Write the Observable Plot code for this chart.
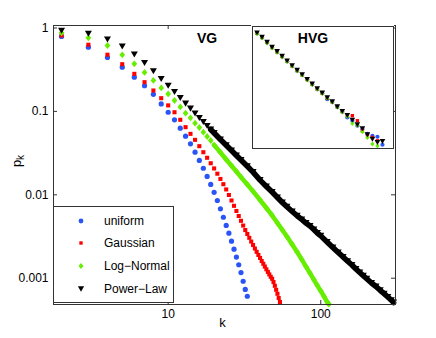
<!DOCTYPE html>
<html><head><meta charset="utf-8">
<script src="https://cdn.jsdelivr.net/npm/d3@7"></script>
<script src="https://cdn.jsdelivr.net/npm/@observablehq/plot@0.6"></script>
<style>
body{margin:0;background:#fff;font-family:"Liberation Sans",Arial,sans-serif;}
#wrap{position:relative;width:436px;height:338px;overflow:hidden;background:#fff;}
#inset{position:absolute;left:251px;top:25px;}
#legend{position:absolute;left:53px;top:206px;width:121px;height:97px;box-sizing:border-box;border:1px solid #333;background:#fff;}
.lrow{position:absolute;left:0;height:16px;width:118px;font-size:12px;line-height:16px;color:#000;}
.lrow svg{position:absolute;left:21px;top:2px;}
.lrow span{position:absolute;left:50px;top:0;white-space:nowrap;}
</style></head>
<body><div id="wrap"><div id="inset"></div><div id="legend"></div></div>
<script>
// ---- main (VG) data ----
const uniformK = [2,3,4,5,6,7,8,9,10,11,12,13,14,15,16,17,18,19,20,21,22,23,24,25,26,27,28,29,30,31,32,33];
const uniformP = [0.791,0.589,0.443,0.339,0.257,0.203,0.160,0.123,0.0977,0.0793,0.0630,0.0505,0.0408,0.0324,0.0258,0.0208,0.0166,0.0133,0.0107,0.00855,0.00679,0.00538,0.00429,0.00347,0.00278,0.00223,0.00179,0.00145,0.00117,0.00092,0.000733,0.000608];

const gaussianK = [2,3,4,5,6,7,8,9,10,11,12,13,14,15,16,17,18,19,20,21,22,23,24,25,26,27,28,29,30,31,32,33,34,35,36,37,38,39,40,41,42,43,44,45,46,47,48,49,50,51,52,53,54];
const gaussianP = [0.813,0.630,0.478,0.368,0.282,0.224,0.178,0.144,0.118,0.0977,0.0793,0.0647,0.0538,0.0456,0.0383,0.0324,0.0278,0.0239,0.0207,0.0179,0.0155,0.0134,0.0116,0.00995,0.00855,0.00738,0.00640,0.00557,0.00488,0.00428,0.00378,0.00339,0.00305,0.00275,0.00250,0.00227,0.00207,0.00190,0.00175,0.00161,0.00149,0.00138,0.00128,0.00119,0.00111,0.00104,0.000984,0.000900,0.000811,0.000726,0.000650,0.000579,0.000519];

const logNormalK = [2,3,4,5,6,7,8,9,10,11,12,13,14,15,16,17,18,19,20,22,24,26,28,30,33,36,40,44,48,52,56,60,65,70,75,80,85,90,95,100,105,110,113];
const logNormalP = [0.876,0.763,0.617,0.477,0.372,0.293,0.235,0.191,0.162,0.135,0.113,0.0951,0.0838,0.0722,0.0641,0.0563,0.0500,0.0448,0.0395,0.0322,0.0265,0.0223,0.0190,0.0163,0.0133,0.0110,0.00867,0.00695,0.00565,0.00459,0.00379,0.00316,0.00254,0.00206,0.00168,0.00138,0.00115,0.000964,0.000817,0.000703,0.000604,0.000519,0.000491];

const powerLawK = [2,3,4,5,6,7,8,9,10,11,12,13,14,15,16,17,18,19,20,22,24,26,28,30,33,36,40,44,48,52,56,60,65,70,75,80,85,90,95,100,110,120,130,140,150,160,170,180,190,200,215,230,245,260,275,290,300];
const powerLawP = [0.926,0.852,0.728,0.600,0.481,0.380,0.303,0.245,0.203,0.171,0.145,0.124,0.108,0.0944,0.0834,0.0747,0.0668,0.0607,0.0551,0.0460,0.0393,0.0340,0.0296,0.0261,0.0220,0.0187,0.0150,0.0126,0.0108,0.00929,0.00809,0.00718,0.00631,0.00560,0.00506,0.00459,0.00422,0.00384,0.00348,0.00322,0.00272,0.00233,0.00203,0.00180,0.00160,0.00144,0.00129,0.00117,0.00107,0.000984,0.000876,0.000795,0.000716,0.000652,0.000595,0.000545,0.000511];

// ---- inset (HVG) data ----
const hvgUniformK = [2,3,4,5,6,7,8,9,10,11,12,13,14,15,16,17,18,19,20,21,22,23,24,25,26,27];
const hvgUniformP = [0.318,0.215,0.136,0.0860,0.0565,0.0370,0.0240,0.0155,0.0101,0.00680,0.00440,0.00285,0.00183,0.00125,0.000719,0.000560,0.000350,0.000225,0.000133,0.0000980,0.0000615,0.0000453,0.0000293,0.0000243,0.0000222,0.0000106];
const hvgGaussianK = [2,3,4,5,6,7,8,9,10,11,12,13,14,15,16,17,18,19,20,21,22,23,24,25,26];
const hvgGaussianP = [0.325,0.218,0.138,0.0865,0.0580,0.0375,0.0245,0.0158,0.0102,0.00690,0.00445,0.00290,0.00188,0.00126,0.000800,0.000565,0.000355,0.000230,0.000170,0.000156,0.0000980,0.0000387,0.0000267,0.0000208,0.0000153];
const hvgLogNormalK = [2,3,4,5,6,7,8,9,10,11,12,13,14,15,16,17,18,19,20,21,22,23,24,25,26];
const hvgLogNormalP = [0.310,0.210,0.132,0.0830,0.0560,0.0362,0.0235,0.0152,0.0099,0.00660,0.00428,0.00278,0.00181,0.00121,0.000790,0.000540,0.000340,0.000220,0.000149,0.0000762,0.0000644,0.0000352,0.0000208,0.0000113,0.0000096];
const hvgPowerLawK = [2,3,4,5,6,7,8,9,10,11,12,13,14,15,16,17,18,19,20,21,22,23,24,25,26,27];
const hvgPowerLawP = [0.334,0.222,0.140,0.0879,0.0590,0.0381,0.0249,0.0161,0.0104,0.00698,0.00452,0.00294,0.00191,0.00128,0.000826,0.000570,0.000359,0.000232,0.000160,0.000104,0.0000676,0.0000466,0.0000267,0.0000176,0.0000131,0.0000144];

const yTicks = [1, 0.1, 0.01, 0.001];
const xTicks = [10, 100];
const seriesNames = ["uniform", "Gaussian", "Log\u2212Normal", "Power\u2212Law"];
const seriesColors = ["#2b54f6", "#ff0000", "#66ee00", "#000000"];

// symbols
const triDown = {draw(c, s) {
  const a = Math.sqrt(4 * s / Math.sqrt(3)), h = a * Math.sqrt(3) / 2;
  c.moveTo(-a / 2, -h / 2); c.lineTo(a / 2, -h / 2); c.lineTo(0, h / 2); c.closePath();
}};
const diamond = {draw(c, s) {
  const q = Math.sqrt(s), w = q * 0.5, h = q * 0.6;
  c.moveTo(0, -h); c.lineTo(w, 0); c.lineTo(0, h); c.lineTo(-w, 0); c.closePath();
}};
const symbols = [d3.symbolCircle, d3.symbolSquare, diamond, triDown];
const mainR = [2.6, 2.3, 3.2, 2.6];
const insetR = [2.1, 1.9, 2.4, 2.1];

const toRows = (ks, ps) => ks.map((k, i) => ({k, p: ps[i]}));
const mainData = [toRows(uniformK, uniformP), toRows(gaussianK, gaussianP), toRows(logNormalK, logNormalP), toRows(powerLawK, powerLawP)];
const insetData = [toRows(hvgUniformK, hvgUniformP), toRows(hvgGaussianK, hvgGaussianP), toRows(hvgLogNormalK, hvgLogNormalP), toRows(hvgPowerLawK, hvgPowerLawP)];

const W = 436, H = 338, mL = 53, mR = 41, mT = 25, mB = 34;
const fw = W - mL - mR, fh = H - mT - mB;
const font = '"Liberation Sans", Arial, sans-serif';
const axisColor = "#333";

const dotMarks = (data, rs) => data.map((rows, i) => Plot.dot(rows, {x: "k", y: "p", r: rs[i], symbol: symbols[i], fill: seriesColors[i], stroke: "none"}));

const main = Plot.plot({
  width: W, height: H, marginLeft: mL, marginRight: mR, marginTop: mT, marginBottom: mB,
  style: {fontFamily: font, fontSize: "12px", background: "white", color: "black", overflow: "visible"},
  x: {type: "log", domain: [1.772, 308.8]},
  y: {type: "log", domain: [0.000484, 1.071]},
  marks: [
    Plot.ruleY(yTicks, {insetRight: fw - 4, stroke: axisColor}),
    Plot.ruleY(yTicks, {insetLeft: fw - 4, stroke: axisColor}),
    Plot.ruleX(xTicks, {insetTop: fh - 4, stroke: axisColor}),
    Plot.ruleX(xTicks, {insetBottom: fh - 4, stroke: axisColor}),
    Plot.axisY({ticks: yTicks, tickSize: 0, tickPadding: 5, tickFormat: d => String(d), label: null}),
    Plot.axisX({ticks: xTicks, tickSize: 0, tickPadding: 5, tickFormat: d => String(d), label: null}),
    Plot.line(mainData[2].filter(d => d.k >= 20), {x: "k", y: "p", stroke: seriesColors[2], strokeWidth: 4.5}),
    Plot.line(mainData[3].filter(d => d.k >= 19), {x: "k", y: "p", stroke: seriesColors[3], strokeWidth: 5.5}),
    ...dotMarks(mainData, mainR),
    Plot.frame({stroke: axisColor})
  ]
});

const svg = d3.select(main);
svg.append("text").attr("x", 222.5).attr("y", 327).attr("text-anchor", "middle")
  .attr("font-size", 13).attr("font-family", font).text("k");
const yl = svg.append("text").attr("transform", "translate(21,161) rotate(-90)").attr("text-anchor", "middle")
  .attr("font-size", 13).attr("font-family", font);
yl.append("tspan").text("p");
yl.append("tspan").attr("dy", 3).attr("font-size", 10).text("k");
svg.append("text").attr("x", 207).attr("y", 43).attr("font-size", 14).attr("font-weight", "bold")
  .attr("font-family", font).text("VG");
document.getElementById("wrap").prepend(main);

const inset = Plot.plot({
  width: 143, height: 124, margin: 1,
  style: {background: "white", overflow: "visible"},
  x: {domain: [1.1, 29.2], axis: null},
  y: {type: "log", domain: [0.0000075, 0.6], axis: null},
  marks: [
    Plot.frame({stroke: axisColor, fill: "white"}),
    ...dotMarks(insetData, insetR),
    Plot.frame({stroke: axisColor})
  ]
});
d3.select(inset).append("text").attr("x", 62).attr("y", 17.5).attr("font-size", 14).attr("font-weight", "bold")
  .attr("font-family", font).text("HVG");
document.getElementById("inset").appendChild(inset);

// legend
const leg = document.getElementById("legend");
const legR = [2.4, 1.9, 2.8, 2.3];
const rowY = [14.7, 36.7, 60.3, 82.7];
seriesNames.forEach((name, i) => {
  const row = document.createElement("div");
  row.className = "lrow";
  row.style.top = (rowY[i] - 1 - 8) + "px";
  const sz = Math.PI * legR[i] * legR[i];
  const path = d3.symbol(symbols[i], sz)();
  row.innerHTML = `<svg width="12" height="12" viewBox="-6 -6 12 12"><path d="${path}" fill="${seriesColors[i]}"/></svg><span>${name}</span>`;
  leg.appendChild(row);
});
</script>
</body></html>
